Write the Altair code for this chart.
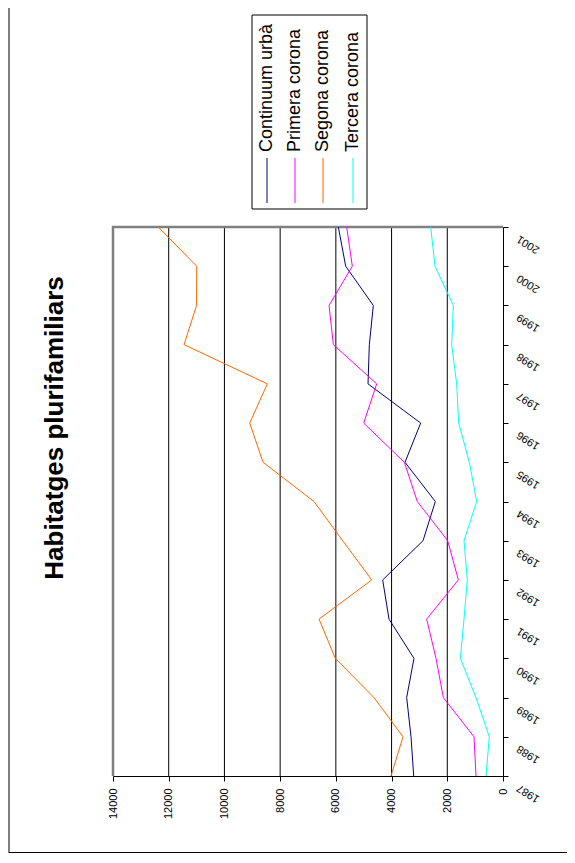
import altair as alt
import pandas as pd

# ---- data ----
years = list(range(1987, 2002))
continuum = [3206, 3302, 3458, 3195, 4092, 4319, 2871, 2429, 3518, 2955, 4846, 4798, 4655, 5647, 5911]
primera = [969, 1041, 2142, 2405, 2740, 1603, 1986, 3075, 3542, 5000, 4535, 6090, 6245, 5409, 5611]
segona = [4020, 3589, 4630, 6019, 6604, 4714, 5754, 6784, 8614, 9093, 8460, 11450, 11000, 10995, 12373]
tercera = [610, 491, 969, 1532, 1400, 1281, 1400, 945, 1208, 1591, 1663, 1842, 1783, 2441, 2596]

series_names = ["Continuum urbà", "Primera corona", "Segona corona", "Tercera corona"]
series_colors = ["#000080", "#FF00FF", "#FF6600", "#00FFFF"]
value_ticks = [0, 2000, 4000, 6000, 8000, 10000, 12000, 14000]
grid_values = [2000, 4000, 6000, 8000, 10000, 12000]
title_text = "Habitatges plurifamiliars"

FONT = "Liberation Sans"

rows = []
for name, vals in zip(series_names, [continuum, primera, segona, tercera]):
    for yr, v in zip(years, vals):
        rows.append({"year": yr, "value": v, "series": name})
df = pd.DataFrame(rows)

x_scale = alt.Scale(domain=[0, 14000], reverse=True, nice=False, zero=True)
y_scale = alt.Scale(domain=[1987, 2001], nice=False, zero=False)

x_axis = alt.Axis(
    orient="bottom", values=value_ticks, format="d", grid=False,
    labelAngle=270, labelAlign="right", labelBaseline="middle",
    labelPadding=7, labelFontSize=11, labelFont=FONT, labelColor="black",
    tickSize=5, tickColor="black", domainColor="black", labelFlush=False,
    labelOverlap=False,
)
y_axis = alt.Axis(
    orient="right", values=years, format="d", grid=False,
    labelAngle=212, labelAlign="right", labelBaseline="bottom",
    labelPadding=12, labelOffset=6, labelFontSize=11, labelFont=FONT,
    labelColor="black", tickSize=5, tickColor="black", domainColor="black",
    labelFlush=False, labelOverlap=False,
)

grid = alt.Chart(pd.DataFrame({"value": grid_values})).mark_rule(
    color="black", strokeWidth=1
).encode(x=alt.X("value:Q", scale=x_scale, axis=x_axis, title=None))

lines = alt.Chart(df).mark_line(strokeWidth=1).encode(
    x=alt.X("value:Q", scale=x_scale, axis=x_axis, title=None),
    y=alt.Y("year:Q", scale=y_scale, axis=y_axis, title=None),
    color=alt.Color("series:N", scale=alt.Scale(domain=series_names, range=series_colors), legend=None),
    order=alt.Order("year:Q"),
)

one = pd.DataFrame({"a": [0]})

# plot-area border (grey, left and top)
border_left = alt.Chart(one).mark_rule(color="#808080", strokeWidth=2.5).encode(
    x=alt.value(0), y=alt.value(-1), y2=alt.value(549)
)
border_top = alt.Chart(one).mark_rule(color="#808080", strokeWidth=2.5).encode(
    x=alt.value(-1), x2=alt.value(390), y=alt.value(0)
)

# plot area origin on the page is (113, 227); positions below are relative to it
legend_box = alt.Chart(one).mark_rect(fill="white", stroke="black", strokeWidth=1).encode(
    x=alt.value(139), x2=alt.value(254), y=alt.value(-212), y2=alt.value(-18)
)
legend_layers = [legend_box]
legend_x = [154, 182, 210, 240]
for name, col, lx in zip(series_names, series_colors, legend_x):
    legend_layers.append(
        alt.Chart(one).mark_rule(color=col, strokeWidth=1).encode(
            x=alt.value(lx), y=alt.value(-69), y2=alt.value(-24)
        )
    )
    legend_layers.append(
        alt.Chart(one).mark_text(
            angle=270, align="left", baseline="middle", fontSize=18, font=FONT, color="black"
        ).encode(x=alt.value(lx), y=alt.value(-75), text=alt.value(name))
    )

title = alt.Chart(one).mark_text(
    angle=270, align="center", baseline="middle", fontSize=26, fontWeight="bold",
    font=FONT, color="black"
).encode(x=alt.value(-58), y=alt.value(201), text=alt.value(title_text))

frame_left = alt.Chart(one).mark_rule(color="black", strokeWidth=1).encode(
    x=alt.value(-104), y=alt.value(-235), y2=alt.value(626)
)
frame_bottom = alt.Chart(one).mark_rule(color="black", strokeWidth=1).encode(
    x=alt.value(-104), x2=alt.value(470), y=alt.value(625.5)
)

chart = alt.layer(
    grid, border_left, border_top, lines, frame_left, frame_bottom, title, *legend_layers
).properties(
    width=390, height=549,
    autosize=alt.AutoSizeParams(type="none"),
    padding={"left": 105, "top": 219, "right": 64, "bottom": 77},
).configure_view(stroke=None).configure(background="white")

chart.save("out.html", embed_options={"renderer": "svg", "actions": False})
